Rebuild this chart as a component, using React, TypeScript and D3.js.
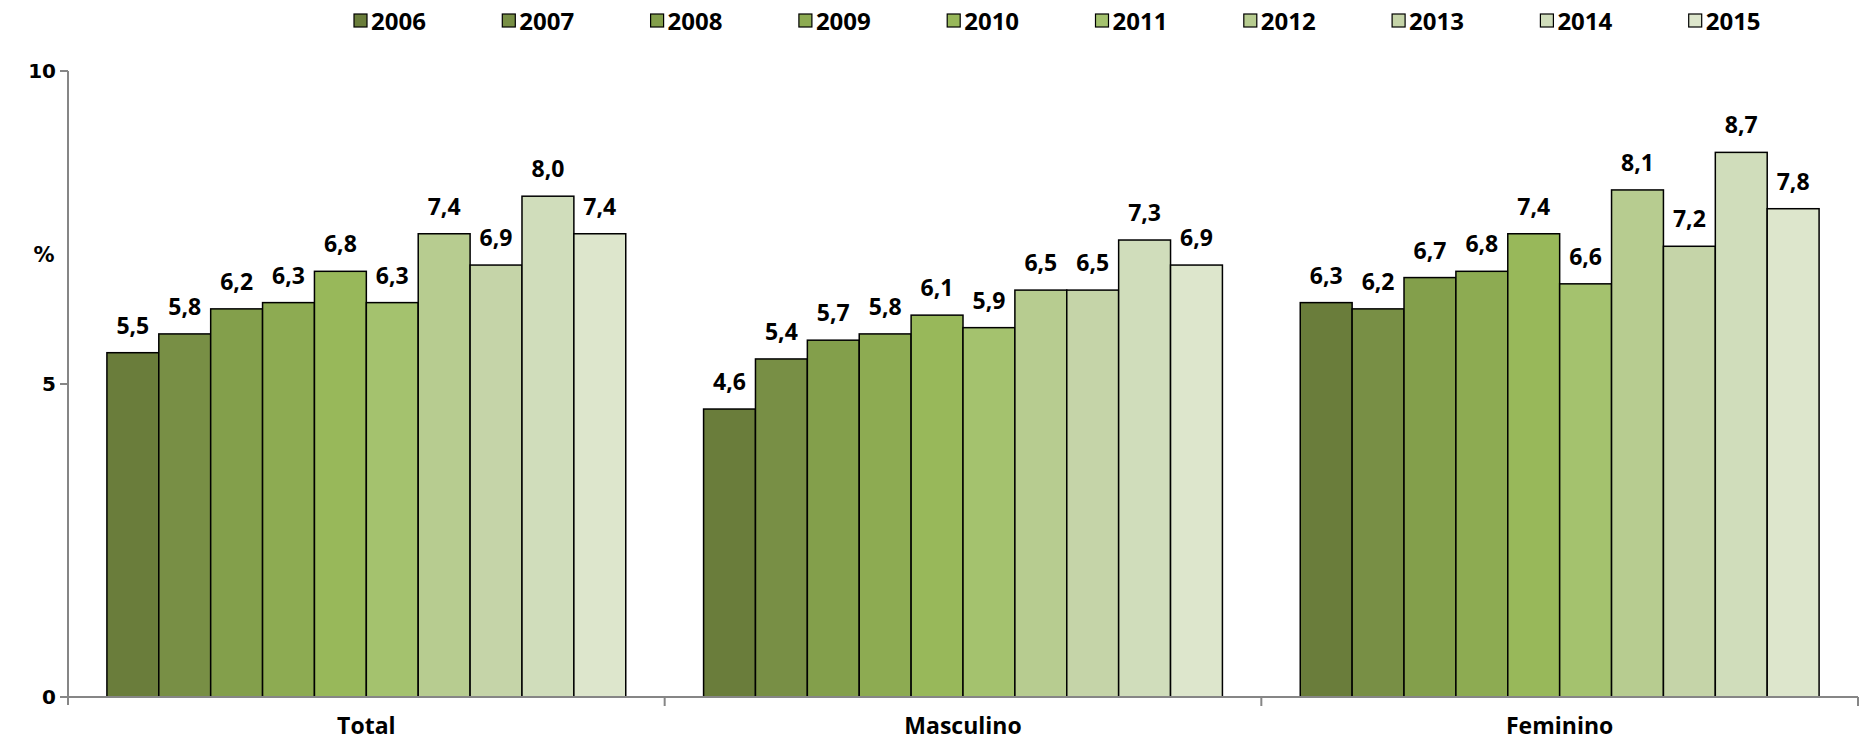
import React, { useEffect, useRef } from "react";
import * as d3 from "d3";

const categories = ["Total", "Masculino", "Feminino"];
const years = ["2006", "2007", "2008", "2009", "2010", "2011", "2012", "2013", "2014", "2015"];
const totalValues = [5.5, 5.8, 6.2, 6.3, 6.8, 6.3, 7.4, 6.9, 8.0, 7.4];
const masculinoValues = [4.6, 5.4, 5.7, 5.8, 6.1, 5.9, 6.5, 6.5, 7.3, 6.9];
const femininoValues = [6.3, 6.2, 6.7, 6.8, 7.4, 6.6, 8.1, 7.2, 8.7, 7.8];
const yTicks = [0, 5, 10];
const yearColors = ["#6a7d3b", "#788f45", "#839f4b", "#8dab52", "#98b85a", "#a4c26e", "#b7cc90", "#c5d4a8", "#d0ddbb", "#dde6cc"];

const W = 1863;
const H = 742;
const M = { left: 68, right: 5, top: 71, bottom: 45 };
const LABEL_FONT = "'Open Sans', 'Liberation Sans', sans-serif";
const TICK_FONT = "'DejaVu Sans', Verdana, sans-serif";

export default function App() {
  const ref = useRef<SVGSVGElement | null>(null);

  useEffect(() => {
    const svg = d3.select(ref.current);
    svg.selectAll("*").remove();

    const seriesByCat = [totalValues, masculinoValues, femininoValues];
    const x0 = d3.scaleBand().domain(categories).range([M.left, W - M.right]).paddingInner(0).paddingOuter(0);
    // Excel gap width 150%: group = 10 bars + 1.5 bar widths
    const step = x0.bandwidth() / 11.5;
    const x1 = d3
      .scaleBand()
      .domain(years)
      .range([step * 0.75, x0.bandwidth() - step * 0.75])
      .paddingInner(0)
      .paddingOuter(0);

    const y = d3.scaleLinear().domain([0, 10]).range([H - M.bottom, M.top]);

    const axisColor = "#868686";
    svg
      .append("line")
      .attr("x1", M.left)
      .attr("x2", M.left)
      .attr("y1", y(10))
      .attr("y2", y(0) + 8)
      .attr("stroke", axisColor)
      .attr("stroke-width", 2);

    yTicks.forEach((t) => {
      svg
        .append("line")
        .attr("x1", M.left - 8)
        .attr("x2", M.left)
        .attr("y1", y(t))
        .attr("y2", y(t))
        .attr("stroke", axisColor)
        .attr("stroke-width", 2);
      svg
        .append("text")
        .attr("x", 56)
        .attr("y", y(t))
        .attr("dy", "0.36em")
        .attr("text-anchor", "end")
        .attr("font-family", TICK_FONT)
        .attr("font-weight", "bold")
        .attr("font-size", 20)
        .attr("fill", "#000")
        .text(String(t));
    });

    svg
      .append("text")
      .attr("x", 44)
      .attr("y", 262)
      .attr("text-anchor", "middle")
      .attr("font-family", TICK_FONT)
      .attr("font-weight", "bold")
      .attr("font-size", 21)
      .text("%");

    categories.forEach((cat, ci) => {
      const g = svg.append("g").attr("transform", `translate(${x0(cat)},0)`);
      const vals = seriesByCat[ci];
      g.selectAll("rect")
        .data(vals)
        .join("rect")
        .attr("x", (_, i) => x1(years[i])!)
        .attr("y", (d) => y(d))
        .attr("width", x1.bandwidth())
        .attr("height", (d) => y(0) - y(d))
        .attr("fill", (_, i) => yearColors[i])
        .attr("stroke", "#000")
        .attr("stroke-width", 1.5);
      g.selectAll("text.val")
        .data(vals)
        .join("text")
        .attr("class", "val")
        .attr("x", (_, i) => x1(years[i])! + x1.bandwidth() / 2)
        .attr("y", (d) => y(d) - 19)
        .attr("text-anchor", "middle")
        .attr("font-family", LABEL_FONT)
        .attr("font-weight", "bold")
        .attr("font-size", 23)
        .attr("fill", "#000")
        .text((d) => d3.format(".1f")(d).replace(".", ","));
    });

    svg
      .append("line")
      .attr("x1", M.left)
      .attr("x2", W - M.right)
      .attr("y1", y(0))
      .attr("y2", y(0))
      .attr("stroke", axisColor)
      .attr("stroke-width", 2);
    categories.forEach((cat) => {
      const xe = x0(cat)! + x0.bandwidth();
      svg
        .append("line")
        .attr("x1", xe)
        .attr("x2", xe)
        .attr("y1", y(0))
        .attr("y2", y(0) + 9)
        .attr("stroke", axisColor)
        .attr("stroke-width", 2);
      svg
        .append("text")
        .attr("x", x0(cat)! + x0.bandwidth() / 2)
        .attr("y", 734)
        .attr("text-anchor", "middle")
        .attr("font-family", LABEL_FONT)
        .attr("font-weight", "bold")
        .attr("font-size", 23)
        .text(cat);
    });

    years.forEach((yr, i) => {
      const lx = 354 + i * 148.3;
      svg
        .append("rect")
        .attr("x", lx)
        .attr("y", 14)
        .attr("width", 13)
        .attr("height", 13)
        .attr("fill", yearColors[i])
        .attr("stroke", "#000")
        .attr("stroke-width", 1.2);
      svg
        .append("text")
        .attr("x", lx + 17)
        .attr("y", 21)
        .attr("dy", "0.36em")
        .attr("font-family", LABEL_FONT)
        .attr("font-weight", "bold")
        .attr("font-size", 24)
        .text(yr);
    });
  }, []);

  return (
    <svg
      ref={ref}
      width={W}
      height={H}
      style={{ position: "absolute", left: 0, top: 0, background: "#fff" }}
    />
  );
}
